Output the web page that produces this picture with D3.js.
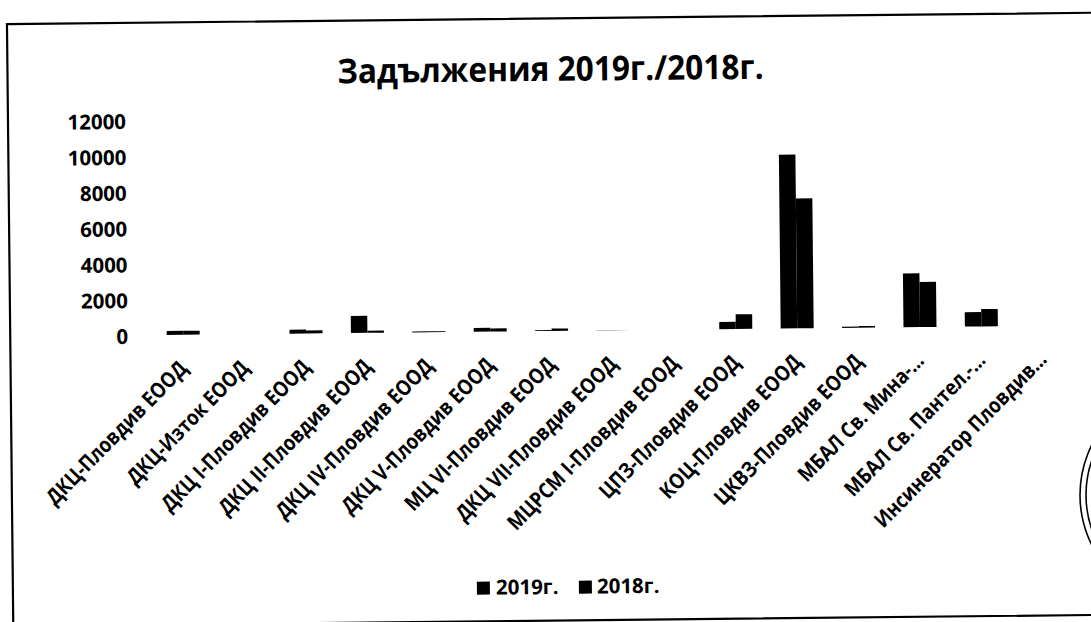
<!DOCTYPE html>
<html>
<head>
<meta charset="utf-8">
<script src="https://cdn.jsdelivr.net/npm/d3@7/dist/d3.min.js"></script>
<style>
  html, body { margin: 0; padding: 0; background: #fff; }
  svg { display: block; }
  text { font-family: "Open Sans", "Noto Sans", "DejaVu Sans", sans-serif; font-weight: 700; fill: #000; }
</style>
</head>
<body>
<svg id="chart" width="1091" height="622"></svg>
<script>
const title = "Задължения 2019г./2018г.";
const categories = [
  "ДКЦ-Пловдив ЕООД", "ДКЦ-Изток ЕООД", "ДКЦ I-Пловдив ЕООД", "ДКЦ II-Пловдив ЕООД",
  "ДКЦ IV-Пловдив ЕООД", "ДКЦ V-Пловдив ЕООД", "МЦ VI-Пловдив ЕООД", "ДКЦ VII-Пловдив ЕООД",
  "МЦРСМ I-Пловдив ЕООД", "ЦПЗ-Пловдив ЕООД", "КОЦ-Пловдив ЕООД", "ЦКВЗ-Пловдив ЕООД",
  "МБАЛ Св. Мина-…", "МБАЛ Св. Пантел.-…", "Инсинератор Пловдив…"
];
const seriesNames = ["2019г.", "2018г."];
const values2019 = [220, 0, 220, 950, 50, 210, 50, 10, 0, 400, 9700, 70, 3000, 800, 0];
const values2018 = [220, 0, 170, 120, 50, 170, 130, 10, 0, 820, 7250, 90, 2520, 970, 0];
const yTicks = [0, 2000, 4000, 6000, 8000, 10000, 12000];

const svg = d3.select("#chart");
const W = 1091, H = 622;
svg.append("rect").attr("width", W).attr("height", H).attr("fill", "#fff");

// whole scanned page is slightly tilted
const page = svg.append("g").attr("transform", "rotate(-0.6,545,311)");

// chart frame
page.append("rect")
  .attr("x", 10).attr("y", 18.5).attr("width", 1250).attr("height", 602.2)
  .attr("fill", "none").attr("stroke", "#000").attr("stroke-width", 2.2);

const plotLeft = 152.3, plotRight = 1073.3, baseY = 331, topY = 116;

const x = d3.scaleBand().domain(categories).range([plotLeft, plotRight])
  .paddingInner(0.4625).paddingOuter(0.23125);
const xs = d3.scaleBand().domain(seriesNames).range([0, x.bandwidth()]).padding(0);
const y = d3.scaleLinear().domain([0, 12000]).range([baseY, topY]);

// title
page.append("text")
  .attr("x", 553).attr("y", 81)
  .attr("text-anchor", "middle")
  .attr("transform", "translate(553,0) scale(0.93,1) translate(-553,0)")
  .style("font-size", "34px")
  .text(title);

// y axis labels
const yAxis = page.append("g")
  .attr("transform", "translate(128,1.5)")
  .call(d3.axisLeft(y).tickValues(yTicks).tickSize(0).tickPadding(0).tickFormat(d3.format("d")));
yAxis.select(".domain").remove();
yAxis.selectAll("text")
  .style("font-size", "20.5px")
  .style("font-family", "'Open Sans', sans-serif")
  .style("font-weight", 700)
  .attr("fill", "#000");

// bars
const data = categories.map((c, i) => ({ c, vals: [values2019[i], values2018[i]] }));
const groups = page.append("g").selectAll("g").data(data).join("g")
  .attr("transform", d => `translate(${x(d.c)},0)`);
groups.selectAll("rect").data(d => d.vals.map((v, j) => ({ s: seriesNames[j], v })))
  .join("rect")
  .attr("x", d => xs(d.s))
  .attr("width", xs.bandwidth())
  .attr("y", d => y(d.v))
  .attr("height", d => baseY - y(d.v))
  .attr("fill", "#000");

// x axis labels
const xAxis = page.append("g")
  .attr("transform", `translate(0,${baseY})`)
  .call(d3.axisBottom(x).tickSize(0).tickPadding(0));
xAxis.select(".domain").remove();
xAxis.selectAll("text")
  .attr("x", 0).attr("y", 0).attr("dy", 0)
  .attr("text-anchor", "end")
  .attr("transform", "translate(5,35) rotate(-45) scale(0.9,1.04)")
  .style("font-size", "20.5px")
  .style("font-family", "'Open Sans', sans-serif")
  .style("font-weight", 700)
  .attr("fill", "#000");

// legend
const legendItems = [
  { name: seriesNames[0], sx: 474, tx: 493 },
  { name: seriesNames[1], sx: 576, tx: 594 }
];
const lg = page.append("g");
legendItems.forEach(it => {
  lg.append("rect").attr("x", it.sx).attr("y", 581).attr("width", 13).attr("height", 13).attr("fill", "#000");
  lg.append("text").attr("x", it.tx).attr("y", 594).style("font-size", "20.5px").text(it.name);
});

// partial stamp at the right edge
[112, 106].forEach(r => {
  svg.append("circle").attr("cx", 1192).attr("cy", 495).attr("r", r)
    .attr("fill", "none").attr("stroke", "#000").attr("stroke-width", 1.6);
});
</script>
</body>
</html>
